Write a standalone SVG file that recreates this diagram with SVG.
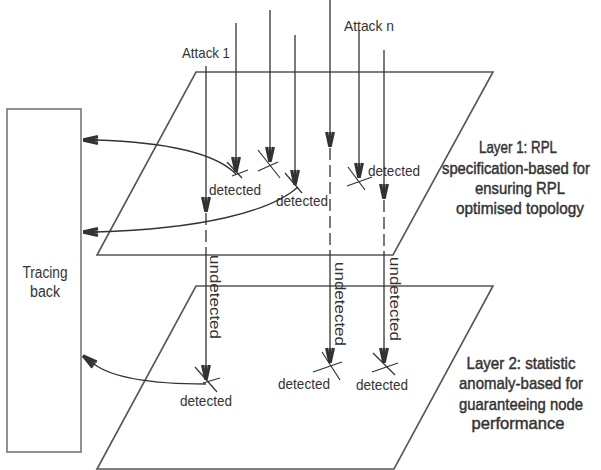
<svg xmlns="http://www.w3.org/2000/svg" width="601" height="470" viewBox="0 0 601 470">
<defs>
<style>
.plane{fill:none;stroke:#555;stroke-width:1.6}
.box{fill:none;stroke:#777;stroke-width:1.6}
.ln{fill:none;stroke:#333;stroke-width:1.3}
.dash{fill:none;stroke:#333;stroke-width:1.3;stroke-dasharray:12 5}
.x{stroke:#333;stroke-width:1.2}
.head{stroke:#333;stroke-width:3;stroke-linecap:butt}
.t{font-family:"Liberation Sans",Arial,sans-serif;fill:#333}
.lbl{font-size:15px}
.big{font-size:17px;stroke:#333;stroke-width:0.45;text-anchor:middle}
</style>
</defs>
<rect width="601" height="470" fill="#ffffff"/>

<g id="layer1">
<polygon class="plane" points="196,72 493,72 393,255 97,255"/>
<text class="t big" x="518" y="153" textLength="78" lengthAdjust="spacingAndGlyphs">Layer 1: RPL</text>
<text class="t big" x="516" y="174" style="font-size:16px" textLength="148" lengthAdjust="spacingAndGlyphs">specification-based for</text>
<text class="t big" x="520" y="194" textLength="90" lengthAdjust="spacingAndGlyphs">ensuring RPL</text>
<text class="t big" x="520" y="214" textLength="128" lengthAdjust="spacingAndGlyphs">optimised topology</text>
</g>

<g id="layer2">
<polygon class="plane" points="196,286 493,286 394,469 97,469"/>
<text class="t big" x="521" y="369" textLength="109" lengthAdjust="spacingAndGlyphs">Layer 2: statistic</text>
<text class="t big" x="521" y="389" textLength="124" lengthAdjust="spacingAndGlyphs">anomaly-based for</text>
<text class="t big" x="521" y="410" textLength="124" lengthAdjust="spacingAndGlyphs">guaranteeing node</text>
<text class="t big" x="518" y="429" textLength="93" lengthAdjust="spacingAndGlyphs">performance</text>
</g>

<g id="tracing-back">
<rect class="box" x="7" y="109" width="74" height="343"/>
<text class="t" x="45" y="278" font-size="16" text-anchor="middle" textLength="45" lengthAdjust="spacingAndGlyphs">Tracing</text>
<text class="t" x="45" y="297" font-size="16" text-anchor="middle" textLength="30" lengthAdjust="spacingAndGlyphs">back</text>
</g>

<g id="attack-labels">
<text class="t lbl" x="182" y="58" textLength="48" lengthAdjust="spacingAndGlyphs">Attack 1</text>
<text class="t lbl" x="344" y="31" textLength="50" lengthAdjust="spacingAndGlyphs">Attack n</text>
</g>

<g id="detections">
<g class="x">
<line x1="227" y1="162" x2="242" y2="178"/><line x1="232" y1="176" x2="248" y2="170"/>
<line x1="258" y1="150" x2="280" y2="178"/><line x1="258" y1="171" x2="278" y2="162"/>
<line x1="285" y1="173" x2="302" y2="193"/>
<line x1="348" y1="167" x2="365" y2="190"/><line x1="347" y1="186" x2="372" y2="177"/>
<line x1="195" y1="367" x2="217" y2="392"/><line x1="203" y1="383" x2="220" y2="378"/>
<line x1="322" y1="352" x2="340" y2="380"/><line x1="313" y1="372" x2="342" y2="362"/>
<line x1="373" y1="353" x2="395" y2="375"/><line x1="372" y1="372" x2="398" y2="363"/>
</g>
<text class="t lbl" x="209" y="195" textLength="52" lengthAdjust="spacingAndGlyphs">detected</text>
<text class="t lbl" x="276" y="206" textLength="52" lengthAdjust="spacingAndGlyphs">detected</text>
<text class="t lbl" x="368" y="176" textLength="52" lengthAdjust="spacingAndGlyphs">detected</text>
<text class="t lbl" x="180" y="406" textLength="52" lengthAdjust="spacingAndGlyphs">detected</text>
<text class="t lbl" x="278" y="389" textLength="52" lengthAdjust="spacingAndGlyphs">detected</text>
<text class="t lbl" x="356" y="390" textLength="52" lengthAdjust="spacingAndGlyphs">detected</text>
<text class="t lbl" transform="translate(210,255) rotate(90)" textLength="84" lengthAdjust="spacingAndGlyphs">undetected</text>
<text class="t lbl" transform="translate(335,262) rotate(90)" textLength="84" lengthAdjust="spacingAndGlyphs">undetected</text>
<text class="t lbl" transform="translate(390,257) rotate(90)" textLength="84" lengthAdjust="spacingAndGlyphs">undetected</text>
</g>

<g id="connectors">
<line class="ln" x1="206" y1="66" x2="206" y2="200"/>
<line class="dash" x1="206" y1="213" x2="206" y2="255"/>
<line class="ln" x1="206" y1="255" x2="206" y2="368"/>
<line class="ln" x1="236" y1="23" x2="236" y2="160"/>
<line class="ln" x1="270" y1="10" x2="270" y2="150"/>
<line class="ln" x1="295" y1="35" x2="295" y2="173"/>
<line class="ln" x1="330" y1="0" x2="330" y2="135"/>
<line class="dash" x1="330" y1="148" x2="330" y2="255"/>
<line class="ln" x1="330" y1="255" x2="330" y2="351"/>
<line class="ln" x1="359" y1="30" x2="359" y2="166"/>
<line class="ln" x1="384" y1="50" x2="384" y2="187"/>
<line class="dash" x1="384" y1="200" x2="384" y2="255"/>
<line class="ln" x1="384" y1="255" x2="384" y2="351"/>
<path class="ln" d="M236,174 C214,152 160,142 96,140"/>
<path class="ln" d="M298,187 C270,212 200,229 96,232"/>
<path class="ln" d="M206,384 C160,384 115,380 94,364"/>
<g class="head">
<line x1="202.5" y1="197" x2="205.7" y2="211.5"/><line x1="209.5" y1="197" x2="206.3" y2="211.5"/><line x1="206" y1="197" x2="206" y2="212"/>
<line x1="202.5" y1="365" x2="205.7" y2="379.5"/><line x1="209.5" y1="365" x2="206.3" y2="379.5"/><line x1="206" y1="365" x2="206" y2="380"/>
<line x1="232.5" y1="157" x2="235.7" y2="171.5"/><line x1="239.5" y1="157" x2="236.3" y2="171.5"/><line x1="236" y1="157" x2="236" y2="172"/>
<line x1="266.5" y1="147" x2="269.7" y2="161.5"/><line x1="273.5" y1="147" x2="270.3" y2="161.5"/><line x1="270" y1="147" x2="270" y2="162"/>
<line x1="291.5" y1="170" x2="294.7" y2="184.5"/><line x1="298.5" y1="170" x2="295.3" y2="184.5"/><line x1="295" y1="170" x2="295" y2="185"/>
<line x1="326.5" y1="132" x2="329.7" y2="146.5"/><line x1="333.5" y1="132" x2="330.3" y2="146.5"/><line x1="330" y1="132" x2="330" y2="147"/>
<line x1="326.5" y1="348" x2="329.7" y2="362.5"/><line x1="333.5" y1="348" x2="330.3" y2="362.5"/><line x1="330" y1="348" x2="330" y2="363"/>
<line x1="355.5" y1="163" x2="358.7" y2="177.5"/><line x1="362.5" y1="163" x2="359.3" y2="177.5"/><line x1="359" y1="163" x2="359" y2="178"/>
<line x1="380.5" y1="184" x2="383.7" y2="198.5"/><line x1="387.5" y1="184" x2="384.3" y2="198.5"/><line x1="384" y1="184" x2="384" y2="199"/>
<line x1="380.5" y1="348" x2="383.7" y2="362.5"/><line x1="387.5" y1="348" x2="384.3" y2="362.5"/><line x1="384" y1="348" x2="384" y2="363"/>
<line x1="98" y1="136.5" x2="83.5" y2="139.7"/><line x1="98" y1="143.5" x2="83.5" y2="140.3"/><line x1="98" y1="140" x2="83" y2="140"/>
<line x1="98" y1="228.5" x2="83.5" y2="231.7"/><line x1="98" y1="235.5" x2="83.5" y2="232.3"/><line x1="98" y1="232" x2="83" y2="232"/>
<line x1="96.83" y1="361.95" x2="83.19" y2="355.91"/><line x1="92.57" y1="367.51" x2="83.19" y2="355.91"/><line x1="94.7" y1="364.73" x2="82.8" y2="355.6"/>
</g>
</g>
</svg>
